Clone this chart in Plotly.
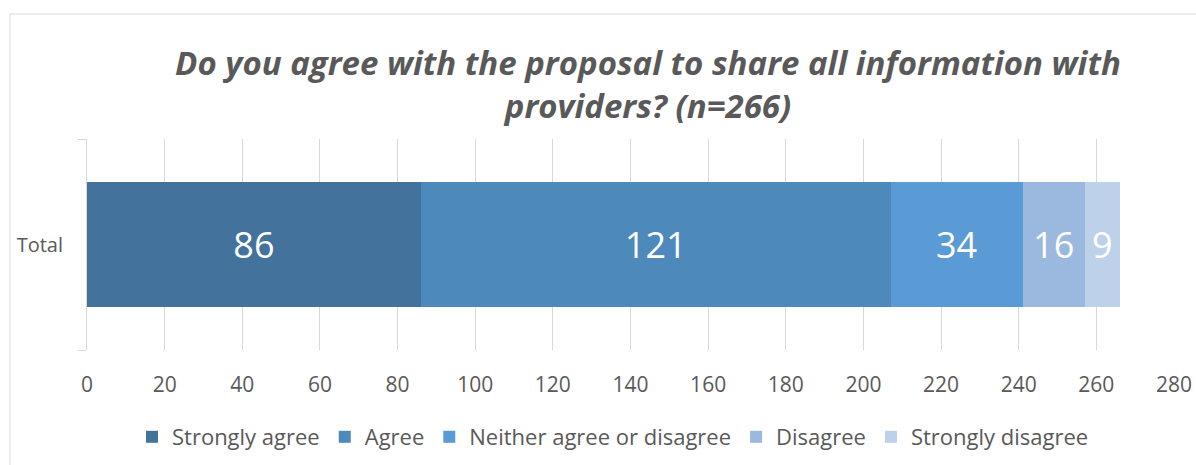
import plotly.graph_objects as go

# Survey responses (n=266)
categories = ["Total"]
responses = ["Strongly agree", "Agree", "Neither agree or disagree", "Disagree", "Strongly disagree"]
counts = [86, 121, 34, 16, 9]
colors = ["#43729D", "#4E89BC", "#5A9BD5", "#9BB9DF", "#BDD1EA"]
x_ticks = list(range(0, 281, 20))

W, H = 1196, 465
m_l, m_r, m_t, m_b = 87, 22, 139, 115
pw, ph = W - m_l - m_r, H - m_t - m_b

fig = go.Figure()
for name, val, col in zip(responses, counts, colors):
    fig.add_trace(go.Bar(
        y=categories, x=[val], name=name, orientation="h",
        marker=dict(color=col, line=dict(width=0)),
        text=[str(val)], textposition="inside", insidetextanchor="middle",
        textangle=0, textfont=dict(color="white", size=36, family="Open Sans"),
    ))

def px_x(p):
    return (p - m_l) / pw

def px_y(p):
    return (H - m_b - p) / ph

fig.update_layout(
    template="none",
    width=W, height=H,
    margin=dict(l=m_l, r=m_r, t=m_t, b=m_b, autoexpand=False),
    barmode="stack", bargap=0.408,
    paper_bgcolor="white", plot_bgcolor="white",
    font=dict(family="Open Sans", color="#595959"),
    uniformtext=dict(minsize=36, mode="show"),
    title=dict(
        text="<b><i>Do you agree with the proposal to share all information with<br>providers? (n=266)</i></b>",
        x=648 / W, xanchor="center", xref="container",
        y=1 - 75 / H, yanchor="middle", yref="container",
        font=dict(size=33, family="Open Sans", color="#595959"),
    ),
    xaxis=dict(
        range=[0, 280], tickvals=x_ticks, showgrid=True, gridcolor="#D9D9D9",
        gridwidth=1, zeroline=False, showline=False, ticks="",
        ticklabelstandoff=20, automargin=False,
        tickfont=dict(size=21, color="#595959"),
    ),
    yaxis=dict(
        showline=True, linecolor="#D9D9D9", linewidth=1,
        ticks="outside", tickson="boundaries", ticklen=8, tickcolor="#D9D9D9",
        ticklabelstandoff=19, automargin=False,
        tickfont=dict(size=20, color="#595959"), showgrid=False,
    ),
    legend=dict(
        orientation="h", xref="paper", xanchor="center",
        x=px_x(613), y=px_y(437), yanchor="middle",
        font=dict(size=22, color="#595959"), traceorder="normal",
        itemwidth=30,
    ),
    shapes=[dict(
        type="rect", xref="paper", yref="paper",
        x0=px_x(10), x1=px_x(1205), y0=px_y(14), y1=px_y(475),
        line=dict(color="#D9D9D9", width=1), layer="below",
    )],
)

fig.write_html("out.html")
